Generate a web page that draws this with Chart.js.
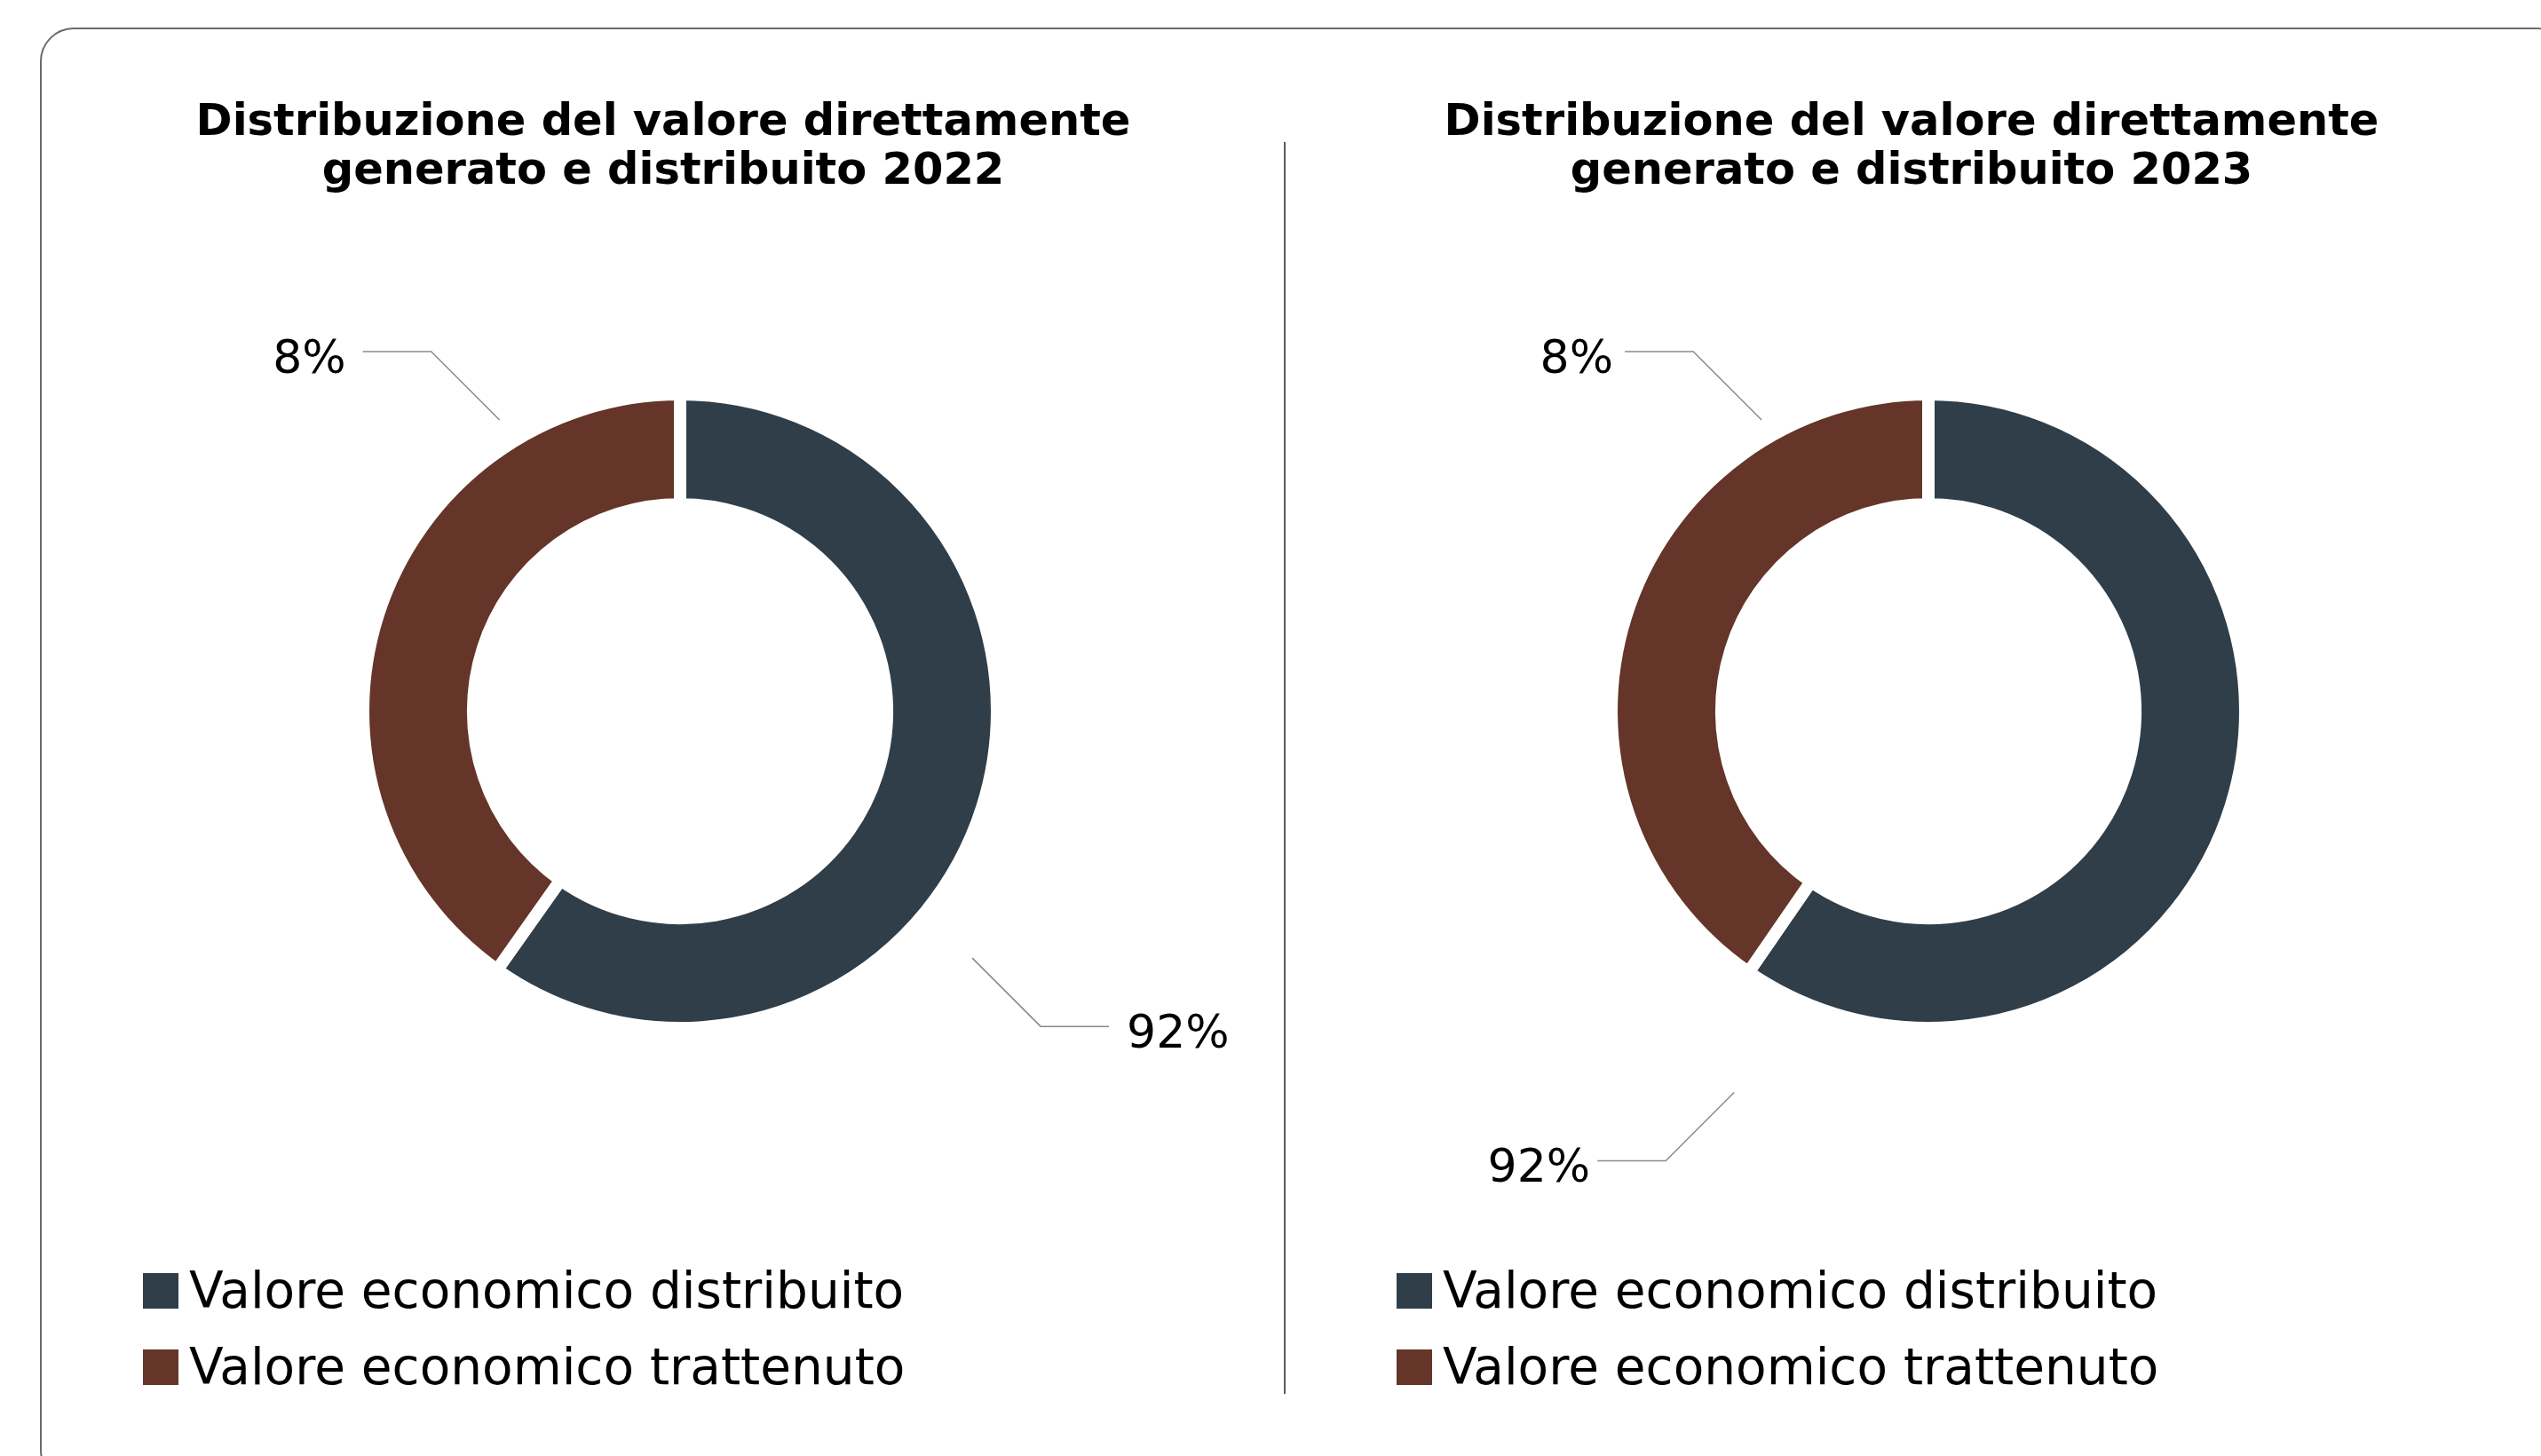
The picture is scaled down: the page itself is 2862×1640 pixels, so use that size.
<!DOCTYPE html>
<html>
<head>
<meta charset="utf-8">
<script src="https://cdn.jsdelivr.net/npm/chart.js@4.4.1/dist/chart.umd.min.js"></script>
<style>
  html, body { margin: 0; padding: 0; background: #fff; }
  body { width: 2862px; height: 1640px; position: relative; overflow: hidden; font-family: 'DejaVu Sans', sans-serif; }
  .frame { position: absolute; left: 45px; top: 31px; width: 2850px; height: 1640px; border: 2px solid #6b6b6b; border-radius: 38px; box-sizing: border-box; }
  .divider { position: absolute; left: 1446px; top: 160px; width: 2px; height: 1410px; background: #5a5a5a; }
  .title { position: absolute; top: 108px; width: 1400px; text-align: center; font-weight: bold; font-size: 49.5px; line-height: 55px; color: #000; }
  .legend { position: absolute; top: 1434px; }
  .legend .row { height: 40px; line-height: 40px; font-size: 56.5px; color: #000; white-space: nowrap; margin-bottom: 46px; }
  .legend .box { display: inline-block; width: 40px; height: 40px; vertical-align: top; margin-right: 12px; }
  canvas { position: absolute; }
</style>
</head>
<body>
<div class="frame"></div>
<div class="divider"></div>

<div class="title" id="title2022" style="left: 47px;"></div>
<div class="title" id="title2023" style="left: 1453px;"></div>

<canvas id="chart2022" width="1300" height="1120" style="left: 116px; top: 241px;"></canvas>
<canvas id="chart2023" width="1300" height="1120" style="left: 1522px; top: 241px;"></canvas>

<div class="legend" id="legend2022" style="left: 161px;"></div>
<div class="legend" id="legend2023" style="left: 1573px;"></div>

<script>
  // categories
  var categories = ['Valore economico distribuito', 'Valore economico trattenuto'];
  var colors = ['#2f3e48', '#643528'];

  // arc shares as drawn in the picture
  var arcs2022 = [59.8, 40.2];
  var arcs2023 = [59.6, 40.4];

  // percentage labels printed next to the slices
  var pctText2022 = ['92%', '8%'];
  var pctText2023 = ['92%', '8%'];

  var titles = {
    '2022': ['Distribuzione del valore direttamente', 'generato e distribuito 2022'],
    '2023': ['Distribuzione del valore direttamente', 'generato e distribuito 2023']
  };

  // leader line placement (angle clockwise from 12 o'clock, distance as share of radius)
  var leaders2022 = [
    { angle: 130.2, dist: 1.207, hx: 1, vy: 1, gap: 20 },
    { angle: 328.2, dist: 1.081, hx: -1, vy: -1, gap: 19 }
  ];
  var leaders2023 = [
    { angle: 207.0, dist: 1.35, hx: -1, vy: 1, gap: 8 },
    { angle: 330.2, dist: 1.059, hx: -1, vy: -1, gap: 13 }
  ];

  var leaderLabels = {
    id: 'leaderLabels',
    afterDatasetsDraw: function(chart, args, opts) {
      var ctx = chart.ctx;
      var meta = chart.getDatasetMeta(0);
      ctx.save();
      meta.data.forEach(function(arc, i) {
        var p = arc.getProps(['x', 'y', 'outerRadius'], true);
        var cfg = opts.leaders[i];
        var a = cfg.angle * Math.PI / 180;
        var d = cfg.dist * p.outerRadius;
        var x0 = p.x + d * Math.sin(a);
        var y0 = p.y - d * Math.cos(a);
        var x1 = x0 + cfg.hx * 77;
        var y1 = y0 + cfg.vy * 77;
        var x2 = x1 + cfg.hx * 77;
        ctx.strokeStyle = '#8a8a8a';
        ctx.lineWidth = 1.5;
        ctx.beginPath();
        ctx.moveTo(x0, y0);
        ctx.lineTo(x1, y1);
        ctx.lineTo(x2, y1);
        ctx.stroke();
        ctx.fillStyle = '#000';
        ctx.font = '52px "DejaVu Sans"';
        ctx.textBaseline = 'alphabetic';
        ctx.textAlign = cfg.hx < 0 ? 'right' : 'left';
        ctx.fillText(opts.texts[i], x2 + cfg.hx * cfg.gap, y1 + 24);
      });
      ctx.restore();
    }
  };

  function makeChart(id, values, texts, leaders) {
    var ctx = document.getElementById(id).getContext('2d');
    return new Chart(ctx, {
      type: 'doughnut',
      data: {
        labels: categories,
        datasets: [{
          data: values,
          backgroundColor: colors,
          borderColor: '#ffffff',
          borderWidth: 14,
          borderJoinStyle: 'miter',
          hoverOffset: 0
        }]
      },
      options: {
        responsive: false,
        animation: false,
        devicePixelRatio: 1,
        radius: 357,
        cutout: '65.3%',
        layout: { padding: 0 },
        plugins: {
          legend: { display: false },
          tooltip: { enabled: false },
          leaderLabels: { texts: texts, leaders: leaders }
        }
      },
      plugins: [leaderLabels]
    });
  }

  function buildTitle(id, lines) {
    document.getElementById(id).innerHTML = lines.join('<br>');
  }

  function buildLegend(id) {
    var el = document.getElementById(id);
    categories.forEach(function(c, i) {
      var row = document.createElement('div');
      row.className = 'row';
      var box = document.createElement('span');
      box.className = 'box';
      box.style.background = colors[i];
      row.appendChild(box);
      row.appendChild(document.createTextNode(c));
      el.appendChild(row);
    });
  }

  buildTitle('title2022', titles['2022']);
  buildTitle('title2023', titles['2023']);
  buildLegend('legend2022');
  buildLegend('legend2023');

  makeChart('chart2022', arcs2022, pctText2022, leaders2022);
  makeChart('chart2023', arcs2023, pctText2023, leaders2023);
</script>
</body>
</html>
